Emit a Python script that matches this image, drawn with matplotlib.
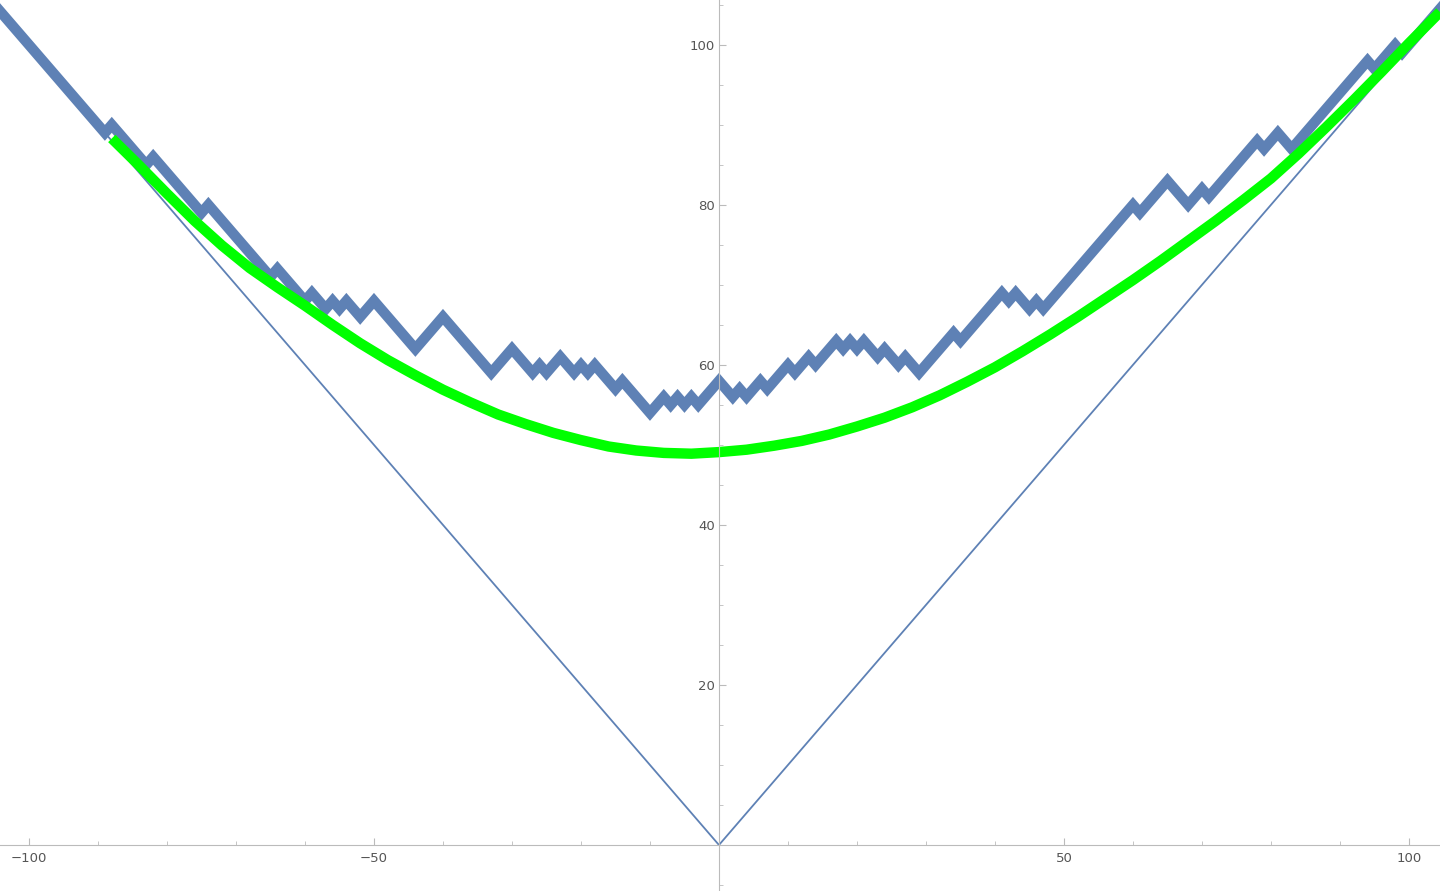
import numpy as np
import matplotlib.pyplot as plt
from matplotlib.ticker import MultipleLocator

# turning points of the random walk (x, y)
walk_x = [-105, -89, -88, -83, -82, -75, -74, -65, -64, -60, -59, -57, -56, -55, -54, -52, -50,
          -44, -40, -33, -30, -27, -26, -25, -23, -21, -20, -19, -18, -15, -14, -10, -8, -7, -6,
          -5, -4, -3, 0, 2, 3, 4, 6, 7, 10, 11, 13, 14, 17, 18, 19, 20, 21, 23, 24, 26, 27, 29,
          34, 35, 41, 42, 43, 45, 46, 47, 60, 61, 65, 68, 70, 71, 78, 79, 81, 83, 94, 95, 98, 99, 105]
walk_y = [105, 89, 90, 85, 86, 79, 80, 71, 72, 68, 69, 67, 68, 67, 68, 66, 68,
          62, 66, 59, 62, 59, 60, 59, 61, 59, 60, 59, 60, 57, 58, 54, 56, 55, 56,
          55, 56, 55, 58, 56, 57, 56, 58, 57, 60, 59, 61, 60, 63, 62, 63, 62, 63, 61, 62, 60, 61, 59,
          64, 63, 69, 68, 69, 67, 68, 67, 80, 79, 83, 80, 82, 81, 88, 87, 89, 87, 98, 97, 100, 99, 105]

# smooth green curve
curve_x = [-88, -84, -80, -76, -72, -68, -64, -60, -56, -52, -48, -44, -40, -36, -32, -28, -24,
           -20, -16, -12, -8, -4, 0, 4, 8, 12, 16, 20, 24, 28, 32, 36, 40, 44, 48, 52, 56,
           60, 64, 68, 72, 76, 80, 84, 88, 92, 96, 100, 104.5]
curve_y = [88.3, 84.9, 81.4, 78.0, 74.9, 72.1, 69.7, 67.4, 65.0, 62.7, 60.6, 58.7, 56.9, 55.3,
           53.8, 52.6, 51.5, 50.6, 49.8, 49.3, 49.0, 48.9, 49.1, 49.4, 49.9, 50.5, 51.3, 52.3,
           53.4, 54.7, 56.2, 57.9, 59.7, 61.7, 63.8, 66.0, 68.3, 70.6, 73.0, 75.5, 78.0, 80.6,
           83.3, 86.4, 89.7, 93.1, 96.6, 100.2, 104.1]

# |x| cone
cone_x = [-105, 0, 105]
cone_y = [105, 0, 105]

blue = '#5e81b5'
fig = plt.figure(figsize=(14.4, 8.91), dpi=100)
ax = fig.add_axes([0, 0, 1, 1])
ax.plot(cone_x, cone_y, color=blue, lw=1.3)
ax.plot(walk_x, walk_y, color=blue, lw=7.5, solid_joinstyle='miter')
ax.plot(curve_x, curve_y, color='#00ff00', lw=7.5, solid_capstyle='butt')

ax.set_xlim(-104.2, 104.5)
ax.set_ylim(-5.75, 105.6)
for s in ['top', 'right']:
    ax.spines[s].set_visible(False)
ax.spines['left'].set_position(('data', 0))
ax.spines['bottom'].set_position(('data', 0))
for s in ['left', 'bottom']:
    ax.spines[s].set_color('#bbbbbb')
    ax.spines[s].set_linewidth(0.8)
ax.set_xticks([-100, -50, 50, 100])
ax.set_yticks([20, 40, 60, 80, 100])
ax.xaxis.set_minor_locator(MultipleLocator(10))
ax.yaxis.set_minor_locator(MultipleLocator(5))
ax.tick_params(which='both', direction='in', color='#bbbbbb', labelcolor='#555555', labelsize=9.5)
ax.tick_params(which='major', length=5)
ax.tick_params(which='minor', length=3)
ax.tick_params(axis='x', pad=5)
ax.tick_params(axis='y', pad=3)
ax.set_xticklabels(['\u2212100', '\u221250', '50', '100'])
ax.set_facecolor('white')
fig.savefig('out.png', dpi=100)
